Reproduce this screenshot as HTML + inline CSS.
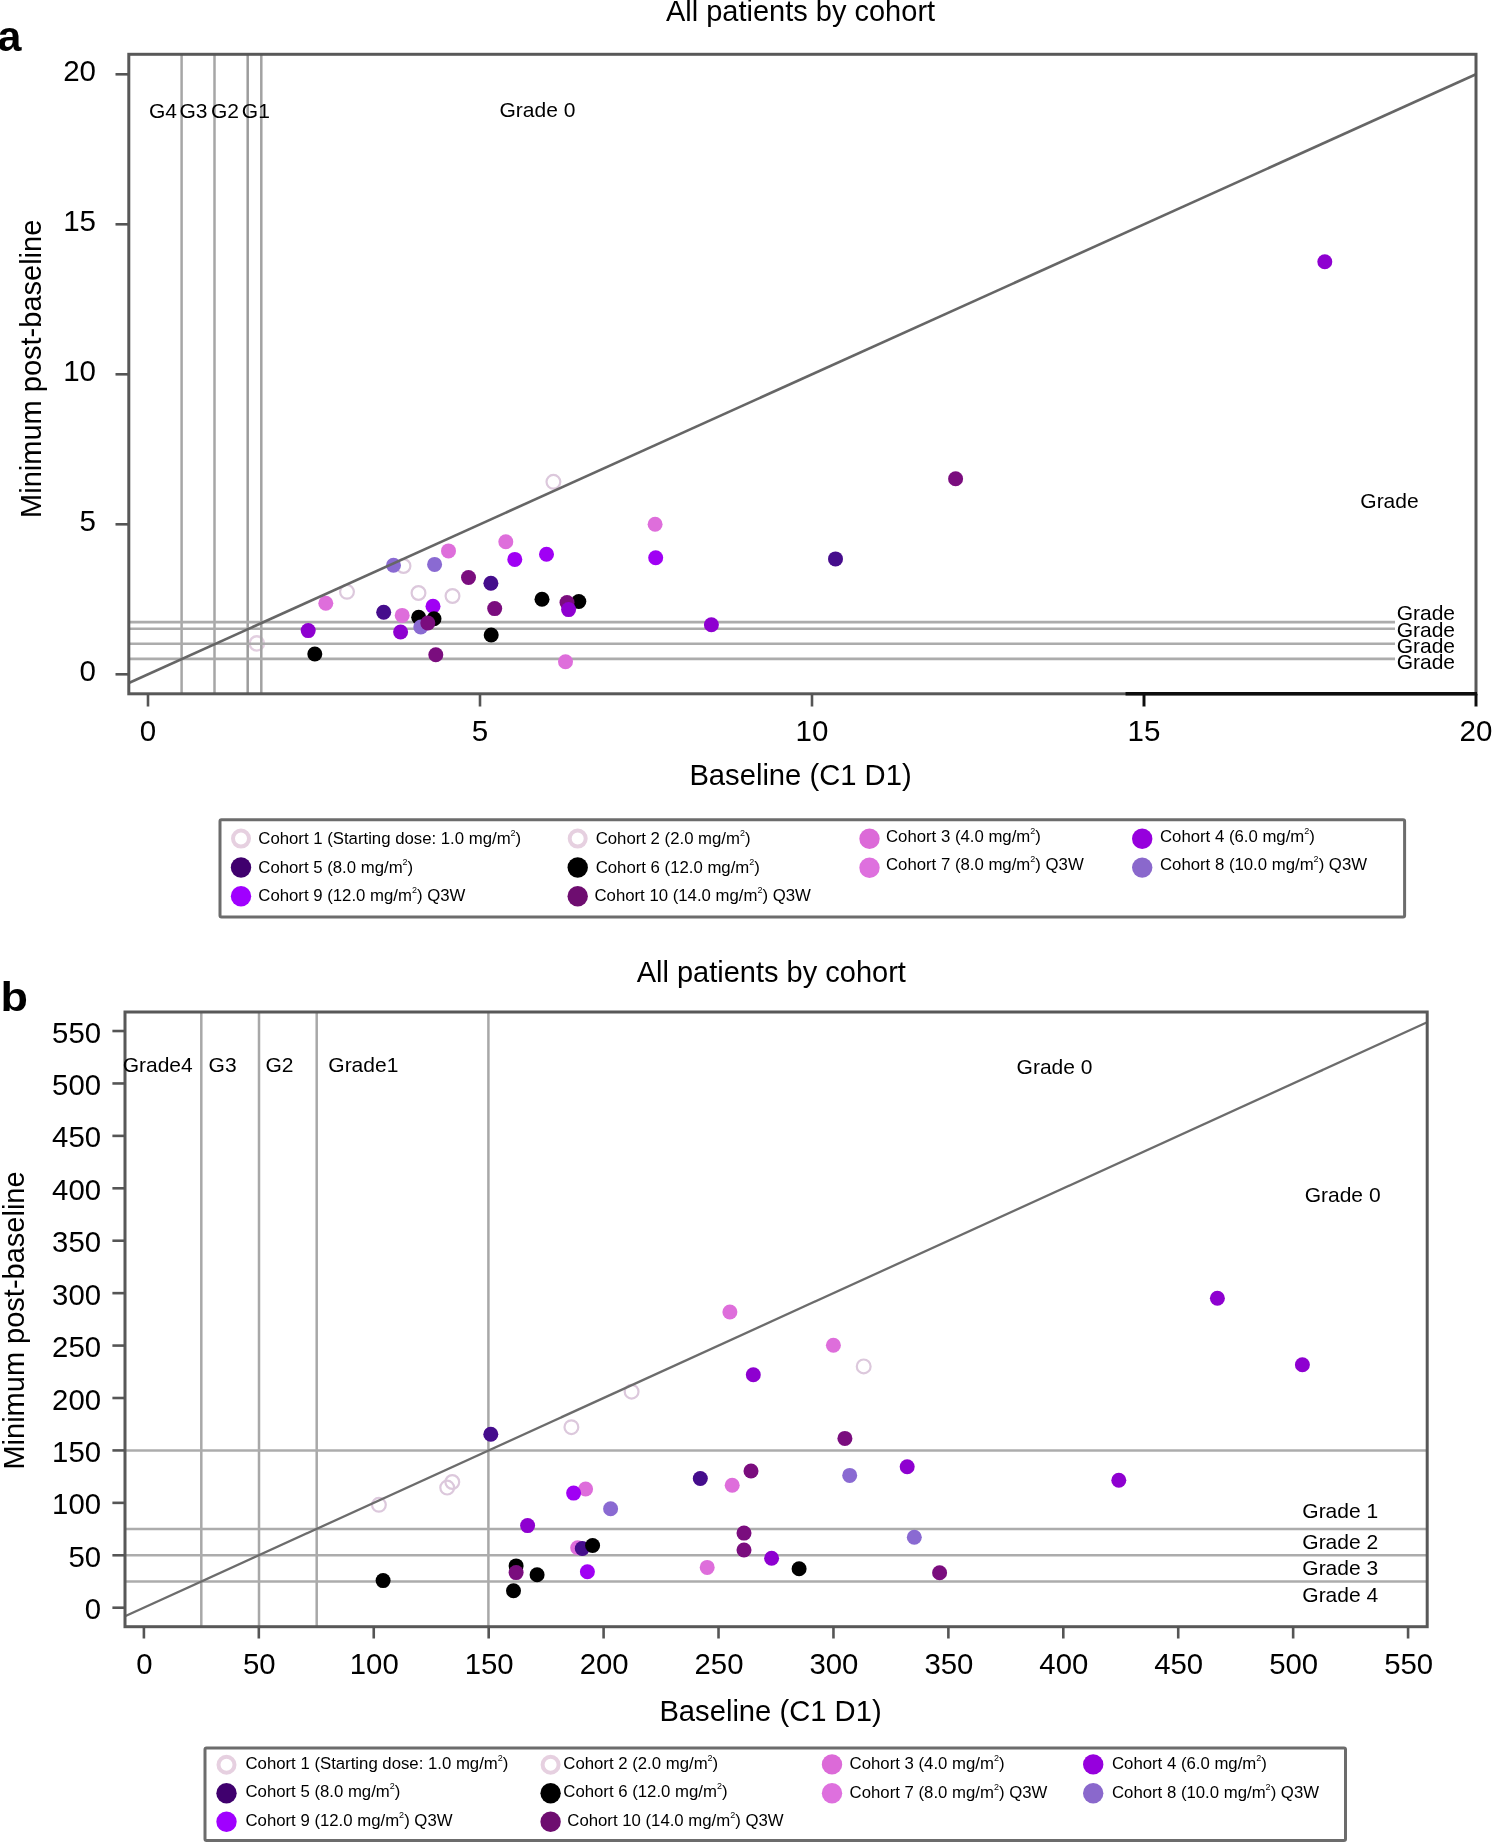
<!DOCTYPE html>
<html><head><meta charset="utf-8"><title>All patients by cohort</title>
<style>
html,body{margin:0;padding:0;background:#fff;}
body{width:1494px;height:1844px;overflow:hidden;}
svg{display:block;}
text{font-family:"Liberation Sans", sans-serif;fill:#000;}
</style></head><body>
<svg width="1494" height="1844" viewBox="0 0 1494 1844">
<defs>
<filter id="bl" x="-20%" y="-20%" width="140%" height="140%"><feGaussianBlur stdDeviation="0.5"/></filter>
<filter id="gb" filterUnits="userSpaceOnUse" x="0" y="0" width="1494" height="1844"><feGaussianBlur stdDeviation="0.55"/></filter>
</defs>
<rect x="0" y="0" width="1494" height="1844" fill="#fff"/>
<g filter="url(#gb)">

<text x="-2.4" y="50.5" font-size="43" text-anchor="start" font-weight="bold" >a</text>
<text x="800.5" y="20.7" font-size="29" text-anchor="middle" font-weight="normal" >All patients by cohort</text>
<circle cx="256.8" cy="643.4" r="7.2" fill="none" stroke="#e2cfe0" stroke-width="2.4"/>
<line x1="181.6" y1="54.3" x2="181.6" y2="693.8" stroke="#a6a6a6" stroke-width="2.5" />
<line x1="214.5" y1="54.3" x2="214.5" y2="693.8" stroke="#a6a6a6" stroke-width="2.5" />
<line x1="247.7" y1="54.3" x2="247.7" y2="693.8" stroke="#9c9c9c" stroke-width="2.5" />
<line x1="261.3" y1="54.3" x2="261.3" y2="693.8" stroke="#a2a2a2" stroke-width="2.5" />
<line x1="128.8" y1="622.1" x2="1395" y2="622.1" stroke="#acacac" stroke-width="2.6" />
<line x1="128.8" y1="628.7" x2="1395" y2="628.7" stroke="#acacac" stroke-width="2.6" />
<line x1="128.8" y1="643.7" x2="1395" y2="643.7" stroke="#acacac" stroke-width="2.6" />
<line x1="128.8" y1="658.9" x2="1395" y2="658.9" stroke="#acacac" stroke-width="2.6" />
<g filter="url(#bl)">
<circle cx="325.8" cy="603.3" r="7.5" fill="#de6edb"/>
<circle cx="347.0" cy="591.8" r="6.9" fill="none" stroke="#dcc8dc" stroke-width="2.2"/>
<circle cx="403.5" cy="566.0" r="6.9" fill="none" stroke="#dcc8dc" stroke-width="2.2"/>
<circle cx="393.5" cy="565.2" r="7.5" fill="#8a6ad2"/>
<circle cx="434.6" cy="564.4" r="7.5" fill="#8a6ad2"/>
<circle cx="448.5" cy="550.9" r="7.5" fill="#de6edb"/>
<circle cx="468.5" cy="577.5" r="7.5" fill="#7a0a7e"/>
<circle cx="418.5" cy="593.0" r="6.9" fill="none" stroke="#dcc8dc" stroke-width="2.2"/>
<circle cx="452.5" cy="596.0" r="6.9" fill="none" stroke="#dcc8dc" stroke-width="2.2"/>
<circle cx="433.0" cy="606.3" r="7.5" fill="#a000f4"/>
<circle cx="383.7" cy="612.3" r="7.5" fill="#44088c"/>
<circle cx="402.2" cy="615.4" r="7.5" fill="#de6edb"/>
<circle cx="434.0" cy="618.8" r="7.5" fill="#050505"/>
<circle cx="418.7" cy="617.3" r="7.5" fill="#050505"/>
<circle cx="420.8" cy="627.0" r="7.5" fill="#8a6ad2"/>
<circle cx="427.8" cy="623.0" r="7.5" fill="#7a0a7e"/>
<circle cx="308.2" cy="630.6" r="7.5" fill="#8e04d0"/>
<circle cx="400.6" cy="632.0" r="7.5" fill="#8e04d0"/>
<circle cx="314.8" cy="654.0" r="7.5" fill="#050505"/>
<circle cx="435.8" cy="654.7" r="7.5" fill="#7a0a7e"/>
<circle cx="490.9" cy="583.2" r="7.5" fill="#44088c"/>
<circle cx="494.7" cy="608.6" r="7.5" fill="#7a0a7e"/>
<circle cx="505.8" cy="541.8" r="7.5" fill="#de6edb"/>
<circle cx="514.8" cy="559.4" r="7.5" fill="#a000f4"/>
<circle cx="546.5" cy="554.3" r="7.5" fill="#a000f4"/>
<circle cx="542.0" cy="599.3" r="7.5" fill="#050505"/>
<circle cx="578.8" cy="601.5" r="7.5" fill="#050505"/>
<circle cx="567.0" cy="602.5" r="7.5" fill="#7a0a7e"/>
<circle cx="568.6" cy="609.6" r="7.5" fill="#8e04d0"/>
<circle cx="491.2" cy="635.0" r="7.5" fill="#050505"/>
<circle cx="565.5" cy="661.8" r="7.5" fill="#de6edb"/>
<circle cx="553.4" cy="481.8" r="6.9" fill="none" stroke="#dcc8dc" stroke-width="2.2"/>
<circle cx="655.1" cy="524.2" r="7.5" fill="#de6edb"/>
<circle cx="655.7" cy="557.7" r="7.5" fill="#a000f4"/>
<circle cx="711.4" cy="624.7" r="7.5" fill="#8e04d0"/>
<circle cx="835.5" cy="558.9" r="7.5" fill="#44088c"/>
<circle cx="955.6" cy="478.8" r="7.5" fill="#7a0a7e"/>
<circle cx="1324.8" cy="261.7" r="7.5" fill="#8e04d0"/>
</g>
<line x1="128.8" y1="682.9746987951806" x2="1476.0" y2="74.29999999999995" stroke="#666" stroke-width="2.6" />
<rect x="128.8" y="54.3" width="1347.2" height="639.5" fill="none" stroke="#585858" stroke-width="3"/>
<line x1="1125.5" y1="693.8" x2="1477.0" y2="693.8" stroke="#111" stroke-width="3.6" />
<line x1="115.5" y1="674.3" x2="128.8" y2="674.3" stroke="#555" stroke-width="2.6" />
<text x="96" y="681.3" font-size="29.5" text-anchor="end" font-weight="normal" >0</text>
<line x1="115.5" y1="524.3" x2="128.8" y2="524.3" stroke="#555" stroke-width="2.6" />
<text x="96" y="531.3" font-size="29.5" text-anchor="end" font-weight="normal" >5</text>
<line x1="115.5" y1="374.29999999999995" x2="128.8" y2="374.29999999999995" stroke="#555" stroke-width="2.6" />
<text x="96" y="381.29999999999995" font-size="29.5" text-anchor="end" font-weight="normal" >10</text>
<line x1="115.5" y1="224.29999999999995" x2="128.8" y2="224.29999999999995" stroke="#555" stroke-width="2.6" />
<text x="96" y="231.29999999999995" font-size="29.5" text-anchor="end" font-weight="normal" >15</text>
<line x1="115.5" y1="74.29999999999995" x2="128.8" y2="74.29999999999995" stroke="#555" stroke-width="2.6" />
<text x="96" y="81.29999999999995" font-size="29.5" text-anchor="end" font-weight="normal" >20</text>
<line x1="148.0" y1="693.8" x2="148.0" y2="706.5" stroke="#555" stroke-width="2.6" />
<text x="148.0" y="741.3" font-size="29.5" text-anchor="middle" font-weight="normal" >0</text>
<line x1="480.0" y1="693.8" x2="480.0" y2="706.5" stroke="#555" stroke-width="2.6" />
<text x="480.0" y="741.3" font-size="29.5" text-anchor="middle" font-weight="normal" >5</text>
<line x1="812.0" y1="693.8" x2="812.0" y2="706.5" stroke="#555" stroke-width="2.6" />
<text x="812.0" y="741.3" font-size="29.5" text-anchor="middle" font-weight="normal" >10</text>
<line x1="1144.0" y1="693.8" x2="1144.0" y2="706.5" stroke="#111" stroke-width="3" />
<text x="1144.0" y="741.3" font-size="29.5" text-anchor="middle" font-weight="normal" >15</text>
<line x1="1476.0" y1="693.8" x2="1476.0" y2="706.5" stroke="#111" stroke-width="3" />
<text x="1476.0" y="741.3" font-size="29.5" text-anchor="middle" font-weight="normal" >20</text>
<text x="800.5" y="784.8" font-size="29.2" text-anchor="middle" font-weight="normal" >Baseline (C1 D1)</text>
<text x="0" y="0" font-size="29" text-anchor="middle" font-weight="normal" transform="translate(40.6,368.8) rotate(-90)">Minimum post-baseline</text>
<text x="149" y="117.6" font-size="21" text-anchor="start" font-weight="normal" >G4</text>
<text x="179.5" y="117.6" font-size="21" text-anchor="start" font-weight="normal" >G3</text>
<text x="211" y="117.6" font-size="21" text-anchor="start" font-weight="normal" >G2</text>
<text x="241.8" y="117.6" font-size="21" text-anchor="start" font-weight="normal" >G1</text>
<text x="499.5" y="116.5" font-size="21" text-anchor="start" font-weight="normal" >Grade 0</text>
<text x="1360.3" y="508.2" font-size="21" text-anchor="start" font-weight="normal" >Grade</text>
<text x="1396.7" y="620.1" font-size="21" text-anchor="start" font-weight="normal" >Grade</text>
<text x="1396.7" y="636.5" font-size="21" text-anchor="start" font-weight="normal" >Grade</text>
<text x="1396.7" y="652.8" font-size="21" text-anchor="start" font-weight="normal" >Grade</text>
<text x="1396.7" y="669.2" font-size="21" text-anchor="start" font-weight="normal" >Grade</text>
<text x="0" y="0" font-size="40" text-anchor="start" font-weight="bold" transform="translate(0.5,1010.6) scale(1.125,1)">b</text>
<text x="771.3" y="982.2" font-size="29" text-anchor="middle" font-weight="normal" >All patients by cohort</text>
<line x1="201.3" y1="1012.0" x2="201.3" y2="1626.7" stroke="#a8a8a8" stroke-width="2.5" />
<line x1="259.0" y1="1012.0" x2="259.0" y2="1626.7" stroke="#a8a8a8" stroke-width="2.5" />
<line x1="316.7" y1="1012.0" x2="316.7" y2="1626.7" stroke="#a8a8a8" stroke-width="2.5" />
<line x1="488.4" y1="1012.0" x2="488.4" y2="1626.7" stroke="#a8a8a8" stroke-width="2.5" />
<line x1="125.0" y1="1450.425" x2="1427.2" y2="1450.425" stroke="#acacac" stroke-width="2.6" />
<line x1="125.0" y1="1529.0625" x2="1427.2" y2="1529.0625" stroke="#acacac" stroke-width="2.6" />
<line x1="125.0" y1="1555.275" x2="1427.2" y2="1555.275" stroke="#acacac" stroke-width="2.6" />
<line x1="125.0" y1="1581.4875" x2="1427.2" y2="1581.4875" stroke="#acacac" stroke-width="2.6" />
<g filter="url(#bl)">
<circle cx="729.9" cy="1312.0" r="7.5" fill="#de6edb"/>
<circle cx="833.4" cy="1345.3" r="7.5" fill="#de6edb"/>
<circle cx="863.7" cy="1366.4" r="6.9" fill="none" stroke="#dcc8dc" stroke-width="2.2"/>
<circle cx="753.3" cy="1374.7" r="7.5" fill="#8e04d0"/>
<circle cx="631.6" cy="1391.7" r="6.9" fill="none" stroke="#dcc8dc" stroke-width="2.2"/>
<circle cx="571.4" cy="1427.2" r="6.9" fill="none" stroke="#dcc8dc" stroke-width="2.2"/>
<circle cx="490.8" cy="1434.2" r="7.5" fill="#44088c"/>
<circle cx="844.9" cy="1438.4" r="7.5" fill="#7a0a7e"/>
<circle cx="700.3" cy="1478.5" r="7.5" fill="#44088c"/>
<circle cx="751.0" cy="1471.0" r="7.5" fill="#7a0a7e"/>
<circle cx="732.2" cy="1485.2" r="7.5" fill="#de6edb"/>
<circle cx="849.7" cy="1475.4" r="7.5" fill="#8a6ad2"/>
<circle cx="452.3" cy="1482.0" r="6.9" fill="none" stroke="#dcc8dc" stroke-width="2.2"/>
<circle cx="447.2" cy="1487.6" r="6.9" fill="none" stroke="#dcc8dc" stroke-width="2.2"/>
<circle cx="378.9" cy="1504.8" r="6.9" fill="none" stroke="#dcc8dc" stroke-width="2.2"/>
<circle cx="585.6" cy="1489.0" r="7.5" fill="#de6edb"/>
<circle cx="573.6" cy="1493.1" r="7.5" fill="#a000f4"/>
<circle cx="610.6" cy="1508.8" r="7.5" fill="#8a6ad2"/>
<circle cx="527.6" cy="1525.6" r="7.5" fill="#8e04d0"/>
<circle cx="744.0" cy="1533.1" r="7.5" fill="#7a0a7e"/>
<circle cx="744.0" cy="1550.0" r="7.5" fill="#7a0a7e"/>
<circle cx="577.7" cy="1547.7" r="7.5" fill="#de6edb"/>
<circle cx="582.3" cy="1548.5" r="7.5" fill="#44088c"/>
<circle cx="592.6" cy="1545.5" r="7.5" fill="#050505"/>
<circle cx="771.6" cy="1558.3" r="7.5" fill="#8e04d0"/>
<circle cx="707.2" cy="1567.4" r="7.5" fill="#de6edb"/>
<circle cx="799.1" cy="1568.8" r="7.5" fill="#050505"/>
<circle cx="516.1" cy="1565.9" r="7.5" fill="#050505"/>
<circle cx="516.1" cy="1572.6" r="7.5" fill="#7a0a7e"/>
<circle cx="537.1" cy="1574.7" r="7.5" fill="#050505"/>
<circle cx="587.4" cy="1571.8" r="7.5" fill="#a000f4"/>
<circle cx="383.1" cy="1580.6" r="7.5" fill="#050505"/>
<circle cx="513.5" cy="1590.7" r="7.5" fill="#050505"/>
<circle cx="1217.4" cy="1298.2" r="7.5" fill="#8e04d0"/>
<circle cx="1302.4" cy="1364.7" r="7.5" fill="#8e04d0"/>
<circle cx="907.2" cy="1466.7" r="7.5" fill="#8e04d0"/>
<circle cx="1118.8" cy="1480.3" r="7.5" fill="#8e04d0"/>
<circle cx="914.3" cy="1537.2" r="7.5" fill="#8a6ad2"/>
<circle cx="939.6" cy="1572.7" r="7.5" fill="#7a0a7e"/>
</g>
<line x1="125.0" y1="1616.3215575375245" x2="1427.2" y2="1022.3008048727432" stroke="#6c6c6c" stroke-width="2.3" />
<rect x="125.0" y="1012.0" width="1302.2" height="614.7" fill="none" stroke="#585858" stroke-width="3"/>
<line x1="112.4" y1="1607.7" x2="125.0" y2="1607.7" stroke="#555" stroke-width="2.6" />
<text x="101" y="1619.3" font-size="29.3" text-anchor="end" font-weight="normal" >0</text>
<line x1="143.9" y1="1626.7" x2="143.9" y2="1638.5" stroke="#555" stroke-width="2.6" />
<text x="144.4" y="1674.3" font-size="29.3" text-anchor="middle" font-weight="normal" >0</text>
<line x1="112.4" y1="1555.275" x2="125.0" y2="1555.275" stroke="#555" stroke-width="2.6" />
<text x="101" y="1566.875" font-size="29.3" text-anchor="end" font-weight="normal" >50</text>
<line x1="258.82500000000005" y1="1626.7" x2="258.82500000000005" y2="1638.5" stroke="#555" stroke-width="2.6" />
<text x="259.32500000000005" y="1674.3" font-size="29.3" text-anchor="middle" font-weight="normal" >50</text>
<line x1="112.4" y1="1502.8500000000001" x2="125.0" y2="1502.8500000000001" stroke="#555" stroke-width="2.6" />
<text x="101" y="1514.45" font-size="29.3" text-anchor="end" font-weight="normal" >100</text>
<line x1="373.75" y1="1626.7" x2="373.75" y2="1638.5" stroke="#555" stroke-width="2.6" />
<text x="374.25" y="1674.3" font-size="29.3" text-anchor="middle" font-weight="normal" >100</text>
<line x1="112.4" y1="1450.425" x2="125.0" y2="1450.425" stroke="#555" stroke-width="2.6" />
<text x="101" y="1462.0249999999999" font-size="29.3" text-anchor="end" font-weight="normal" >150</text>
<line x1="488.67500000000007" y1="1626.7" x2="488.67500000000007" y2="1638.5" stroke="#555" stroke-width="2.6" />
<text x="489.17500000000007" y="1674.3" font-size="29.3" text-anchor="middle" font-weight="normal" >150</text>
<line x1="112.4" y1="1398.0" x2="125.0" y2="1398.0" stroke="#555" stroke-width="2.6" />
<text x="101" y="1409.6" font-size="29.3" text-anchor="end" font-weight="normal" >200</text>
<line x1="603.6" y1="1626.7" x2="603.6" y2="1638.5" stroke="#555" stroke-width="2.6" />
<text x="604.1" y="1674.3" font-size="29.3" text-anchor="middle" font-weight="normal" >200</text>
<line x1="112.4" y1="1345.575" x2="125.0" y2="1345.575" stroke="#555" stroke-width="2.6" />
<text x="101" y="1357.175" font-size="29.3" text-anchor="end" font-weight="normal" >250</text>
<line x1="718.525" y1="1626.7" x2="718.525" y2="1638.5" stroke="#555" stroke-width="2.6" />
<text x="719.025" y="1674.3" font-size="29.3" text-anchor="middle" font-weight="normal" >250</text>
<line x1="112.4" y1="1293.15" x2="125.0" y2="1293.15" stroke="#555" stroke-width="2.6" />
<text x="101" y="1304.75" font-size="29.3" text-anchor="end" font-weight="normal" >300</text>
<line x1="833.45" y1="1626.7" x2="833.45" y2="1638.5" stroke="#555" stroke-width="2.6" />
<text x="833.95" y="1674.3" font-size="29.3" text-anchor="middle" font-weight="normal" >300</text>
<line x1="112.4" y1="1240.725" x2="125.0" y2="1240.725" stroke="#555" stroke-width="2.6" />
<text x="101" y="1252.3249999999998" font-size="29.3" text-anchor="end" font-weight="normal" >350</text>
<line x1="948.375" y1="1626.7" x2="948.375" y2="1638.5" stroke="#555" stroke-width="2.6" />
<text x="948.875" y="1674.3" font-size="29.3" text-anchor="middle" font-weight="normal" >350</text>
<line x1="112.4" y1="1188.3000000000002" x2="125.0" y2="1188.3000000000002" stroke="#555" stroke-width="2.6" />
<text x="101" y="1199.9" font-size="29.3" text-anchor="end" font-weight="normal" >400</text>
<line x1="1063.3000000000002" y1="1626.7" x2="1063.3000000000002" y2="1638.5" stroke="#555" stroke-width="2.6" />
<text x="1063.8000000000002" y="1674.3" font-size="29.3" text-anchor="middle" font-weight="normal" >400</text>
<line x1="112.4" y1="1135.875" x2="125.0" y2="1135.875" stroke="#555" stroke-width="2.6" />
<text x="101" y="1147.475" font-size="29.3" text-anchor="end" font-weight="normal" >450</text>
<line x1="1178.2250000000001" y1="1626.7" x2="1178.2250000000001" y2="1638.5" stroke="#555" stroke-width="2.6" />
<text x="1178.7250000000001" y="1674.3" font-size="29.3" text-anchor="middle" font-weight="normal" >450</text>
<line x1="112.4" y1="1083.45" x2="125.0" y2="1083.45" stroke="#555" stroke-width="2.6" />
<text x="101" y="1095.05" font-size="29.3" text-anchor="end" font-weight="normal" >500</text>
<line x1="1293.15" y1="1626.7" x2="1293.15" y2="1638.5" stroke="#555" stroke-width="2.6" />
<text x="1293.65" y="1674.3" font-size="29.3" text-anchor="middle" font-weight="normal" >500</text>
<line x1="112.4" y1="1031.025" x2="125.0" y2="1031.025" stroke="#555" stroke-width="2.6" />
<text x="101" y="1042.625" font-size="29.3" text-anchor="end" font-weight="normal" >550</text>
<line x1="1408.0750000000003" y1="1626.7" x2="1408.0750000000003" y2="1638.5" stroke="#555" stroke-width="2.6" />
<text x="1408.5750000000003" y="1674.3" font-size="29.3" text-anchor="middle" font-weight="normal" >550</text>
<text x="770.5" y="1720.6" font-size="29.2" text-anchor="middle" font-weight="normal" >Baseline (C1 D1)</text>
<text x="0" y="0" font-size="29" text-anchor="middle" font-weight="normal" transform="translate(24,1320.5) rotate(-90)">Minimum post-baseline</text>
<text x="122.7" y="1071.7" font-size="21" text-anchor="start" font-weight="normal" >Grade4</text>
<text x="208.6" y="1071.7" font-size="21" text-anchor="start" font-weight="normal" >G3</text>
<text x="265.4" y="1071.7" font-size="21" text-anchor="start" font-weight="normal" >G2</text>
<text x="328.3" y="1071.7" font-size="21" text-anchor="start" font-weight="normal" >Grade1</text>
<text x="1016.6" y="1073.5" font-size="21" text-anchor="start" font-weight="normal" >Grade 0</text>
<text x="1304.7" y="1202.4" font-size="21" text-anchor="start" font-weight="normal" >Grade 0</text>
<text x="1302.3" y="1518.3" font-size="21" text-anchor="start" font-weight="normal" >Grade 1</text>
<text x="1302.3" y="1548.5" font-size="21" text-anchor="start" font-weight="normal" >Grade 2</text>
<text x="1302.3" y="1575.2" font-size="21" text-anchor="start" font-weight="normal" >Grade 3</text>
<text x="1302.3" y="1602" font-size="21" text-anchor="start" font-weight="normal" >Grade 4</text>
<rect x="220.0" y="819.7" width="1184.6" height="97.39999999999998" fill="#fff" stroke="#6c6c6c" stroke-width="3" rx="1.5"/>
<circle cx="241.0" cy="838.6" r="8" fill="none" stroke="#e6d0e0" stroke-width="4"/>
<text x="258.3" y="843.8" font-size="16.75">Cohort 1 (Starting dose: 1.0 mg/m<tspan font-size="9" dy="-8">2</tspan><tspan dy="8">)</tspan></text>
<circle cx="241.0" cy="867.5" r="10.2" fill="#40066e"/>
<text x="258.3" y="872.7" font-size="16.75">Cohort 5 (8.0 mg/m<tspan font-size="9" dy="-8">2</tspan><tspan dy="8">)</tspan></text>
<circle cx="241.0" cy="896.2" r="10.2" fill="#a000ff"/>
<text x="258.3" y="901.4" font-size="16.75">Cohort 9 (12.0 mg/m<tspan font-size="9" dy="-8">2</tspan><tspan dy="8">)</tspan> Q3W</text>
<circle cx="577.7" cy="838.6" r="8" fill="none" stroke="#e6d0e0" stroke-width="4"/>
<text x="595.7" y="843.8" font-size="16.75">Cohort 2 (2.0 mg/m<tspan font-size="9" dy="-8">2</tspan><tspan dy="8">)</tspan></text>
<circle cx="577.7" cy="867.5" r="10.2" fill="#000000"/>
<text x="595.7" y="872.7" font-size="16.75">Cohort 6 (12.0 mg/m<tspan font-size="9" dy="-8">2</tspan><tspan dy="8">)</tspan></text>
<circle cx="577.7" cy="896.2" r="10.2" fill="#6e0e70"/>
<text x="594.5" y="901.4" font-size="16.75">Cohort 10 (14.0 mg/m<tspan font-size="9" dy="-8">2</tspan><tspan dy="8">)</tspan> Q3W</text>
<circle cx="869.5" cy="838.8" r="10.2" fill="#dc6ad8"/>
<text x="886.0" y="841.9" font-size="16.75">Cohort 3 (4.0 mg/m<tspan font-size="9" dy="-8">2</tspan><tspan dy="8">)</tspan></text>
<circle cx="869.5" cy="867.7" r="10.2" fill="#de70de"/>
<text x="886.0" y="870.4" font-size="16.75">Cohort 7 (8.0 mg/m<tspan font-size="9" dy="-8">2</tspan><tspan dy="8">)</tspan> Q3W</text>
<circle cx="1142.2" cy="838.7" r="10.2" fill="#9600dd"/>
<text x="1160.0" y="841.9" font-size="16.75">Cohort 4 (6.0 mg/m<tspan font-size="9" dy="-8">2</tspan><tspan dy="8">)</tspan></text>
<circle cx="1142.2" cy="867.6" r="10.2" fill="#8a68cc"/>
<text x="1160.0" y="870.4" font-size="16.75">Cohort 8 (10.0 mg/m<tspan font-size="9" dy="-8">2</tspan><tspan dy="8">)</tspan> Q3W</text>
<rect x="205.0" y="1747.9" width="1140.5" height="92.69999999999982" fill="#fff" stroke="#6c6c6c" stroke-width="3" rx="1.5"/>
<circle cx="226.5" cy="1764.7" r="8" fill="none" stroke="#e6d0e0" stroke-width="4"/>
<text x="245.5" y="1768.7" font-size="16.75">Cohort 1 (Starting dose: 1.0 mg/m<tspan font-size="9" dy="-8">2</tspan><tspan dy="8">)</tspan></text>
<circle cx="226.5" cy="1793.3" r="10.2" fill="#40066e"/>
<text x="245.5" y="1797.4" font-size="16.75">Cohort 5 (8.0 mg/m<tspan font-size="9" dy="-8">2</tspan><tspan dy="8">)</tspan></text>
<circle cx="226.5" cy="1821.7" r="10.2" fill="#a000ff"/>
<text x="245.5" y="1826.2" font-size="16.75">Cohort 9 (12.0 mg/m<tspan font-size="9" dy="-8">2</tspan><tspan dy="8">)</tspan> Q3W</text>
<circle cx="550.6" cy="1764.7" r="8" fill="none" stroke="#e6d0e0" stroke-width="4"/>
<text x="563.3" y="1768.7" font-size="16.75">Cohort 2 (2.0 mg/m<tspan font-size="9" dy="-8">2</tspan><tspan dy="8">)</tspan></text>
<circle cx="550.6" cy="1793.3" r="10.2" fill="#000000"/>
<text x="563.3" y="1797.4" font-size="16.75">Cohort 6 (12.0 mg/m<tspan font-size="9" dy="-8">2</tspan><tspan dy="8">)</tspan></text>
<circle cx="550.6" cy="1821.7" r="10.2" fill="#6e0e70"/>
<text x="567.3" y="1826.2" font-size="16.75">Cohort 10 (14.0 mg/m<tspan font-size="9" dy="-8">2</tspan><tspan dy="8">)</tspan> Q3W</text>
<circle cx="832.0" cy="1764.4" r="10.2" fill="#dc6ad8"/>
<text x="849.6" y="1769.2" font-size="16.75">Cohort 3 (4.0 mg/m<tspan font-size="9" dy="-8">2</tspan><tspan dy="8">)</tspan></text>
<circle cx="832.0" cy="1793.2" r="10.2" fill="#de70de"/>
<text x="849.6" y="1797.9" font-size="16.75">Cohort 7 (8.0 mg/m<tspan font-size="9" dy="-8">2</tspan><tspan dy="8">)</tspan> Q3W</text>
<circle cx="1093.2" cy="1764.4" r="10.2" fill="#9600dd"/>
<text x="1112.0" y="1769.2" font-size="16.75">Cohort 4 (6.0 mg/m<tspan font-size="9" dy="-8">2</tspan><tspan dy="8">)</tspan></text>
<circle cx="1093.2" cy="1793.3" r="10.2" fill="#8a68cc"/>
<text x="1112.0" y="1797.9" font-size="16.75">Cohort 8 (10.0 mg/m<tspan font-size="9" dy="-8">2</tspan><tspan dy="8">)</tspan> Q3W</text>
</g></svg></body></html>
